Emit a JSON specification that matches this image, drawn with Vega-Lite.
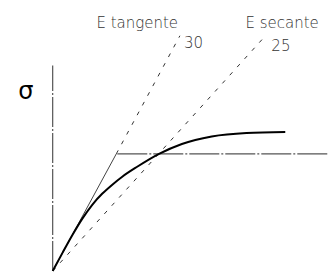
{
  "$schema": "https://vega.github.io/schema/vega-lite/v6.json",
  "width": 331,
  "height": 275,
  "autosize": {"type": "fit", "contains": "padding"},
  "padding": 0,
  "background": "white",
  "config": {"view": {"stroke": null}},
  "datasets": {
    "curve": [
      {"strain": 0, "stress": 0},
      {"strain": 10, "stress": 18.5},
      {"strain": 20, "stress": 36.5},
      {"strain": 30, "stress": 53},
      {"strain": 40, "stress": 67},
      {"strain": 50, "stress": 78},
      {"strain": 60, "stress": 87},
      {"strain": 70, "stress": 95},
      {"strain": 85, "stress": 105},
      {"strain": 107, "stress": 118},
      {"strain": 130, "stress": 128},
      {"strain": 160, "stress": 135.5},
      {"strain": 195, "stress": 139},
      {"strain": 234, "stress": 140}
    ],
    "guides": [
      {"line": "axis", "strain": 0, "stress": 0},
      {"line": "axis", "strain": 0, "stress": 207},
      {"line": "yield", "strain": 65, "stress": 118},
      {"line": "yield", "strain": 277, "stress": 118},
      {"line": "tangent_solid", "strain": 0, "stress": 0},
      {"line": "tangent_solid", "strain": 64, "stress": 118},
      {"line": "tangent_dash", "strain": 64, "stress": 118},
      {"line": "tangent_dash", "strain": 128, "stress": 237},
      {"line": "secant", "strain": 0, "stress": 0},
      {"line": "secant", "strain": 215, "stress": 238}
    ],
    "labels": [
      {"text": "E tangente", "strain": 44, "stress": 245},
      {"text": "E secante", "strain": 194, "stress": 245},
      {"text": "30", "strain": 132, "stress": 225},
      {"text": "25", "strain": 220, "stress": 222}
    ]
  },
  "layer": [
    {
      "data": {"name": "guides"},
      "transform": [{"filter": "datum.line === 'axis'"}],
      "mark": {"type": "line", "stroke": "#555", "strokeWidth": 1.2, "strokeDash": [30, 2, 2, 2]},
      "encoding": {
        "x": {"field": "strain", "type": "quantitative", "scale": {"domain": [-53, 278], "nice": false, "zero": false}, "axis": null},
        "y": {"field": "stress", "type": "quantitative", "scale": {"domain": [-2, 273], "nice": false, "zero": false}, "axis": null}
      }
    },
    {
      "data": {"name": "guides"},
      "transform": [{"filter": "datum.line === 'yield'"}],
      "mark": {"type": "line", "stroke": "#555", "strokeWidth": 1.2, "strokeDash": [30, 2, 2, 2]},
      "encoding": {
        "x": {"field": "strain", "type": "quantitative"},
        "y": {"field": "stress", "type": "quantitative"}
      }
    },
    {
      "data": {"name": "guides"},
      "transform": [{"filter": "datum.line === 'tangent_solid'"}],
      "mark": {"type": "line", "stroke": "#444", "strokeWidth": 1},
      "encoding": {
        "x": {"field": "strain", "type": "quantitative"},
        "y": {"field": "stress", "type": "quantitative"}
      }
    },
    {
      "data": {"name": "guides"},
      "transform": [{"filter": "datum.line === 'tangent_dash' || datum.line === 'secant'"}],
      "mark": {"type": "line", "stroke": "#333", "strokeWidth": 1, "strokeDash": [4, 7]},
      "encoding": {
        "x": {"field": "strain", "type": "quantitative"},
        "y": {"field": "stress", "type": "quantitative"},
        "detail": {"field": "line"}
      }
    },
    {
      "data": {"name": "curve"},
      "mark": {"type": "line", "stroke": "black", "strokeWidth": 2, "interpolate": "monotone"},
      "encoding": {
        "x": {"field": "strain", "type": "quantitative"},
        "y": {"field": "stress", "type": "quantitative"}
      }
    },
    {
      "data": {"name": "labels"},
      "mark": {"type": "text", "align": "left", "baseline": "alphabetic", "font": "DejaVu Sans", "fontWeight": 200, "fontSize": 15, "fill": "#333"},
      "encoding": {
        "x": {"field": "strain", "type": "quantitative"},
        "y": {"field": "stress", "type": "quantitative"},
        "text": {"field": "text"}
      }
    },
    {
      "data": {"values": [{"text": "σ", "strain": -27, "stress": 173}]},
      "mark": {"type": "text", "align": "center", "baseline": "alphabetic", "font": "DejaVu Sans", "fontSize": 24, "fill": "black"},
      "encoding": {
        "x": {"field": "strain", "type": "quantitative"},
        "y": {"field": "stress", "type": "quantitative"},
        "text": {"field": "text"}
      }
    }
  ]
}
